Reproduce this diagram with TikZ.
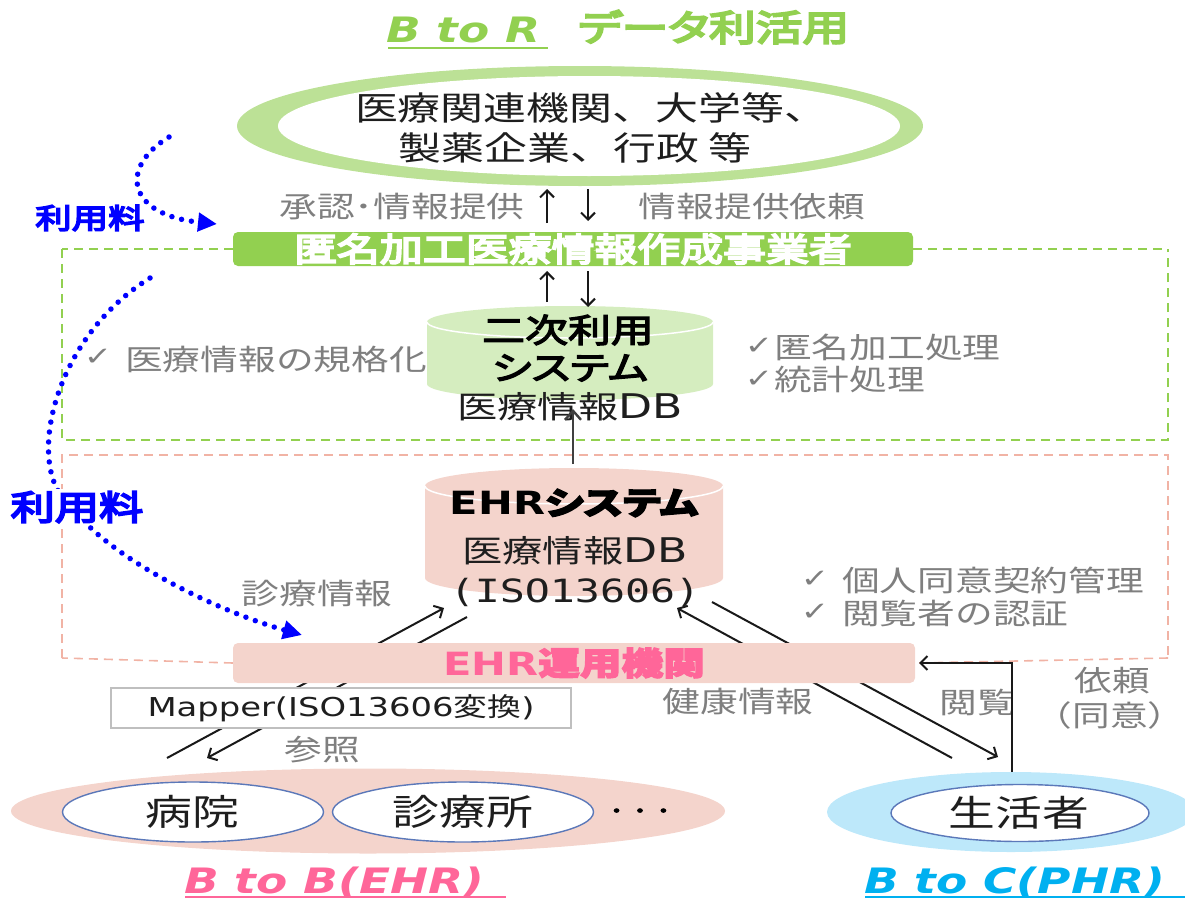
\documentclass[tikz,border=0pt]{standalone}
\usepackage{fontspec}
\usetikzlibrary{arrows.meta,shapes.geometric}
\newfontfamily\jp[FakeStretch=1.3]{Noto Sans CJK JP}
\newfontfamily\jpb[FakeStretch=1.3,FakeBold=4]{Noto Sans CJK JP}
\newfontfamily\jpbb[FakeStretch=1.3,FakeBold=6]{Noto Sans CJK JP}
\newfontfamily\jpbp[FakeStretch=1.3,FakeBold=4,RawFeature=+palt]{Noto Sans CJK JP}
\newfontfamily\jpbbp[FakeStretch=1.3,FakeBold=6,RawFeature=+palt]{Noto Sans CJK JP}
\newfontfamily\dv[FakeStretch=1.3]{DejaVu Sans}
\newfontfamily\dvm[FakeStretch=1.3]{DejaVu Sans Mono}
\newcommand\fsz[2]{\fontsize{#1}{#2}\selectfont}
\definecolor{tgreen}{HTML}{92D050}
\definecolor{ringgreen}{HTML}{BCE196}
\definecolor{cylgreen}{HTML}{D5EDBF}
\definecolor{pinkfill}{HTML}{F4D4CC}
\definecolor{pinkdash}{HTML}{F1B3A5}
\definecolor{pinktxt}{HTML}{FF6699}
\definecolor{cyantxt}{HTML}{00B0F0}
\definecolor{paleblue}{HTML}{BDE8FA}
\definecolor{ovalblue}{HTML}{5B78B9}
\definecolor{graytxt}{HTML}{7F7F7F}
\definecolor{dotblue}{HTML}{0000FF}
\definecolor{inktxt}{HTML}{1E1E1E}
\tikzset{
  gtxt/.style={text=graytxt, font=\jp\fsz{29}{34}, inner sep=0},
  chk/.style={text=graytxt, font=\dv\fsz{26}{30}, inner sep=0},
  arr/.style={draw=black!90, line width=2pt, -{Straight Barb[length=7pt,width=14pt]}},
  garr/.style={draw=black!75, line width=2.4pt, -{Straight Barb[length=9pt,width=16pt]}},
  bdots/.style={draw=dotblue, line width=5.5pt, dash pattern=on 0pt off 10pt, line cap=round, -{Triangle[length=19pt,width=18pt]}},
  fee/.style={text=dotblue, inner sep=0},
  gdash/.style={draw=tgreen, line width=1.6pt, dash pattern=on 9pt off 6pt},
  pdash/.style={draw=pinkdash, line width=1.6pt, dash pattern=on 9pt off 6pt},
  oval/.style={ellipse, draw=ovalblue, line width=1.4pt, fill=white, inner sep=0},
  ttl/.style={font=\dv\bfseries\itshape\fsz{35}{40}, inner sep=0, anchor=base west},
}
\begin{document}
\begin{tikzpicture}[x=1pt,y=-1pt]
\useasboundingbox (0,0) rectangle (1185,899);

% ---- title
\node[ttl, text=tgreen] (btr) at (386,43) {B to R};
\node[font=\jpbbp\fsz{36}{40}, text=tgreen, inner sep=0, anchor=base west] (dtitle) at (578,41) {データ利活用};
\draw[tgreen, line width=2.5pt] (388,48) -- (548,48);

% ---- organisations ellipse
\node[ellipse, fill=ringgreen, minimum width=686pt, minimum height=120pt, inner sep=0] (orgring) at (580,126) {};
\node[ellipse, fill=white, minimum width=622pt, minimum height=100pt, inner sep=0] (orgin) at (589,126) {};
\node[font=\jp\fsz{33}{38}, text=inktxt, inner sep=0] (org1) at (591,108) {医療関連機関、大学等、};
\node[font=\jp\fsz{33}{38}, text=inktxt, inner sep=0] (org2) at (575,148) {製薬企業、行政 等};

% ---- dashed regions
\coordinate (gdL) at (62,249); \coordinate (gdBL) at (62,440);
\coordinate (gdBR) at (1168,440); \coordinate (gdR) at (1168,249);
\draw[gdash] (gdL) -- (gdBL) -- (gdBR) -- (gdR);
\coordinate (pdTL) at (62,455); \coordinate (pdBL) at (62,658);
\coordinate (pdTR) at (1168,455); \coordinate (pdBR) at (1168,658);
\draw[pdash] (pdBL) -- (pdTL) -- (pdTR) -- (pdBR);

% ---- green bar
\node[fill=tgreen, rounded corners=5pt, minimum width=680pt, minimum height=34pt, inner sep=0, text=white, font=\jpbb\fsz{33}{34}] (anon) at (573,249) {匿名加工医療情報作成事業者};
\draw[gdash] (anon.west) -- (gdL);
\draw[gdash] (anon.east) -- (gdR);

% arrows org <-> bar
\coordinate (a1s) at (547,223); \coordinate (a1e) at (547,189);
\coordinate (a2s) at (588,189); \coordinate (a2e) at (588,221);
\draw[arr] (a1s) -- (a1e);
\draw[arr] (a2s) -- (a2e);
\node[gtxt] (shonin) at (402,207) {承認･情報提供};
\node[gtxt] (irai1) at (752,207) {情報提供依頼};

% ---- secondary use cylinder
\fill[cylgreen] (427,322) -- (427,384) arc[start angle=180,end angle=360,x radius=143pt,y radius=16pt] -- (713,322) arc[start angle=0,end angle=180,x radius=143pt,y radius=16pt] -- cycle;
\draw[white, line width=1.5pt] (427,322) arc[start angle=180,end angle=360,x radius=143pt,y radius=16pt];
\coordinate (a3s) at (547,302); \coordinate (a3e) at (547,271);
\coordinate (a4s) at (588,271); \coordinate (a4e) at (588,307);
\draw[arr] (a3s) -- (a3e);
\draw[arr] (a4s) -- (a4e);
\node[font=\jpb\fsz{33}{38}, text=black, inner sep=0] (sysA) at (568,330) {二次利用};
\node[font=\jpbp\fsz{33}{38}, text=black, inner sep=0] (sysB) at (570,368) {システム};
\node[font=\jp\fsz{31}{38}, text=inktxt, inner sep=0] (sysC) at (570,407) {医療情報{\dv\fsz{34}{38}DB}};

\node[chk] (c1) at (98,357) {✓};
\node[gtxt, anchor=west] (std) at (125,359) {医療情報の規格化};
\node[chk] (c2) at (759,346) {✓};
\node[gtxt, anchor=west] (anonp) at (774,347) {匿名加工処理};
\node[chk] (c3) at (759,379) {✓};
\node[gtxt, anchor=west] (statp) at (774,380) {統計処理};

% ---- EHR cylinder
\fill[pinkfill] (425,486) -- (425,578) arc[start angle=180,end angle=360,x radius=149pt,y radius=18pt] -- (723,486) arc[start angle=0,end angle=180,x radius=149pt,y radius=18pt] -- cycle;
\draw[white, line width=1.5pt] (425,486) arc[start angle=180,end angle=360,x radius=149pt,y radius=18pt];

% ---- diagonal flows (drawn under bar and mapper box)
\coordinate (hL1) at (167,758); \coordinate (cL1) at (444,608);
\coordinate (cL2) at (467,617); \coordinate (hL2) at (207,758);
\coordinate (pR1) at (952,758); \coordinate (cR1) at (677,608);
\coordinate (cR2) at (712,602); \coordinate (pR2) at (998,757);
\draw[arr] (hL1) -- (cL1);
\draw[arr] (cL2) -- (hL2);
\draw[arr] (pR1) -- (cR1);
\draw[arr] (cR2) -- (pR2);

\node[font=\dv\bfseries\fsz{32}{36}, text=black, inner sep=0] (ehrA) at (574,503) {EHR{\jpbp システム}};
\node[font=\jp\fsz{31}{38}, text=inktxt, inner sep=0] (ehrB) at (575,551) {医療情報{\dv\fsz{34}{38}DB}};
\node[font=\dvm\fsz{32}{36}, text=inktxt, inner sep=0] (ehrC) at (575,592) {(ISO13606)};

% EHR system -> secondary use system
\coordinate (ehrtop) at (573,464); \coordinate (sysbot) at (573,409);
\draw[garr] (ehrtop) -- (sysbot);

\node[gtxt] (shinryo) at (317,594) {診療情報};
\node[chk] (c4) at (815,579) {✓};
\node[gtxt, anchor=west] (consent) at (842,580) {個人同意契約管理};
\node[chk] (c5) at (815,612) {✓};
\node[gtxt, anchor=west] (auth) at (842,613) {閲覧者の認証};

% ---- EHR operating body bar
\node[fill=pinkfill, rounded corners=5pt, minimum width=682pt, minimum height=40pt, inner sep=0, text=pinktxt, font=\dv\bfseries\fsz{32}{36}] (ehrbar) at (574,663) {EHR{\jpb 運用機関}};
\draw[pdash] (ehrbar.west) -- (pdBL);
\draw[pdash] (pdBR) -- (ehrbar.east);

% ---- mapper
\node[draw=black!25, line width=1.4pt, fill=white, minimum width=460pt, minimum height=40pt, inner sep=0, text=inktxt, font=\dv\fsz{26}{30}] (mapper) at (341,708) {Mapper(ISO13606{\jp 変換})};
\node[gtxt] (sansho) at (322,750) {参照};
\node[gtxt] (kenko) at (738,702) {健康情報};
\node[gtxt] (etsuran) at (977,702) {閲覧};
\node[gtxt] (irai2) at (1112,681) {依頼};
\node[gtxt] (doi) at (1110,715) {（同意）};

% ---- bottom groups
\node[ellipse, fill=pinkfill, minimum width=714pt, minimum height=85pt, inner sep=0] (b2b) at (368,811) {};
\node[oval, minimum width=261pt, minimum height=60pt] (hosp) at (193,812) {};
\node[oval, minimum width=261pt, minimum height=60pt] (clinic) at (463,812) {};
\node[font=\jp\fsz{36}{40}, text=inktxt, inner sep=0] (hospT) at (192,812) {病院};
\node[font=\jp\fsz{36}{40}, text=inktxt, inner sep=0] (clinicT) at (463,812) {診療所};
\node[font=\jpb\fsz{18}{20}, text=black, inner sep=0] (more) at (640,813) {・・・};

\node[ellipse, fill=paleblue, minimum width=368pt, minimum height=80pt, inner sep=0] (b2c) at (1011,812) {};
\node[oval, minimum width=258pt, minimum height=57pt] (person) at (1020,813) {};
\node[font=\jp\fsz{36}{40}, text=inktxt, inner sep=0] (personT) at (1019,813) {生活者};

% request / consent elbow
\coordinate (elbS) at (1012,772); \coordinate (elbE) at (919,663);
\draw[arr] (elbS) |- (elbE);

\node[ttl, text=pinktxt] (b2bT) at (184,893) {B to B(EHR)};
\draw[pinktxt, line width=2.5pt] (185,897) -- (506,897);
\node[ttl, text=cyantxt] (b2cT) at (864,893) {B to C(PHR)};
\draw[cyantxt, line width=2.5pt] (865,897) -- (1185,897);

% ---- usage fees
\coordinate (f1s) at (169,137); \coordinate (f1e) at (217,224);
\draw[bdots] (f1s) .. controls (118,168) and (128,215) .. (f1e);
\node[fee, font=\jpbb\fsz{28}{32}] (fee1) at (90,218) {利用料};
\coordinate (f2s) at (150,278); \coordinate (f2m) at (70,505); \coordinate (f2e) at (302,635);
\draw[bdots] (f2s) .. controls (50,340) and (25,470) .. (f2m) .. controls (110,560) and (220,612) .. (f2e);
\node[fee, fill=white, inner sep=2pt, font=\jpbb\fsz{34}{38}] (fee2) at (77,507) {利用料};
\end{tikzpicture}
\end{document}
